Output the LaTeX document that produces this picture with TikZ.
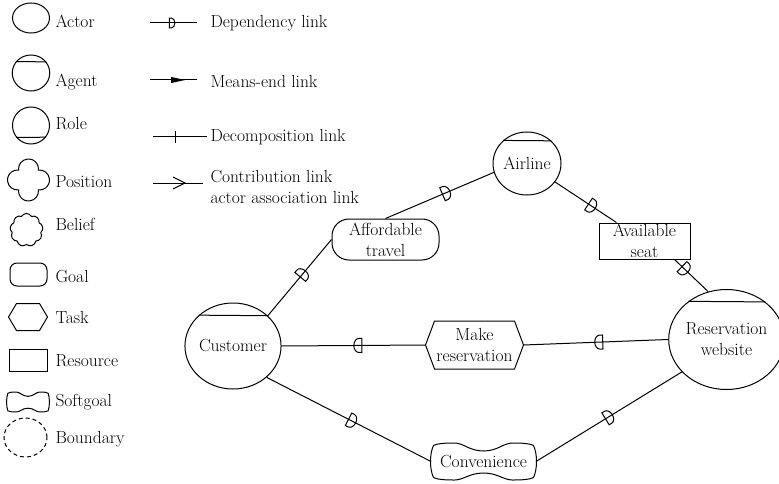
\documentclass[tikz,border=0pt]{standalone}
\usepackage{fontspec}
\usetikzlibrary{shapes.geometric,shapes.symbols,decorations.markings,calc}

% dependency "D": flat back, round front pointing along the path
\newcommand\depglyph{\draw (-4,-7) -- (-4,7) -- (-1,7) arc[start angle=90,end angle=-90,x radius=5,y radius=7] -- cycle;}

\tikzset{
  actornode/.style={draw, ellipse, align=center},
  goalnode/.style={draw, rectangle, rounded corners=#1, align=center},
  resnode/.style={draw, rectangle, align=center},
  plainbox/.style={rectangle, align=center},
  legendlabel/.style={anchor=base west},
  deplink/.style={postaction={decorate},
    decoration={markings, mark=at position #1 with {\depglyph}}},
  smalldeplink/.style={postaction={decorate},
    decoration={markings, mark=at position #1 with {\begin{scope}[scale=0.7]\depglyph\end{scope}}}},
  meanslink/.style={postaction={decorate},
    decoration={markings, mark=at position #1 with {\fill (-7,-3) -- (7,0) -- (-7,3) -- cycle;}}},
  decomplink/.style={postaction={decorate},
    decoration={markings, mark=at position #1 with {\draw (0,-6) -- (0,6);}}},
  contriblink/.style={postaction={decorate},
    decoration={markings, mark=at position #1 with {\draw (-12,-6) -- (0,0) -- (-12,6);}}},
  softgoalshape/.pic={
    \draw (-50,-16) .. controls (-45,-18.5) and (-35,-18.5) .. (-29,-18.5)
      .. controls (-20,-18.5) and (-14,-10.5) .. (0,-10.5)
      .. controls (14,-10.5) and (20,-18.5) .. (29,-18.5)
      .. controls (35,-18.5) and (45,-18.5) .. (50,-16)
      .. controls (54,-8) and (54,8) .. (50,16)
      .. controls (45,18.5) and (35,18.5) .. (29,18.5)
      .. controls (20,18.5) and (14,11.5) .. (0,11.5)
      .. controls (-14,11.5) and (-20,18.5) .. (-29,18.5)
      .. controls (-35,18.5) and (-45,18.5) .. (-50,16)
      .. controls (-54,8) and (-54,-8) .. (-50,-16) -- cycle;
  }
}

\begin{document}
\begin{tikzpicture}[x=1pt, y=-1pt, line width=1pt,
  every node/.style={font=\fontsize{17.5}{21}\selectfont, inner sep=0pt}]
\useasboundingbox (0,0) rectangle (779,484);

% ---------------- legend: element shapes ----------------
\node[actornode, minimum width=37, minimum height=30] (lgActor) at (31,18) {};
\node[legendlabel] (tActor) at (55,28) {Actor};

\node[actornode, minimum width=37.5, minimum height=36] (lgAgent) at (31,73) {};
\draw (lgAgent.143.4) -- (lgAgent.36.6);
\node[legendlabel] (tAgent) at (55,87) {Agent};

\node[actornode, minimum width=37, minimum height=37] (lgRole) at (31,125.5) {};
\draw (lgRole.-141.6) -- (lgRole.-38.4);
\node[legendlabel] (tRole) at (55,130) {Role};

\begin{scope}[shift={(28.5,180)}]
  \draw (9.94,9.94) arc[start angle=-6.1, end angle=186.1, radius=10]
        arc[start angle=83.9, end angle=276.1, radius=10]
        arc[start angle=173.9, end angle=366.1, radius=10]
        arc[start angle=263.9, end angle=456.1, radius=10] -- cycle;
\end{scope}
\node[legendlabel] (tPosition) at (55,187) {Position};

\node[draw, cloud, cloud puffs=9, cloud puff arc=120, aspect=1,
      minimum width=33, minimum height=33] (lgBelief) at (26.5,230) {};
\node[legendlabel] (tBelief) at (55,230) {Belief};

\node[goalnode=7pt, minimum width=37, minimum height=23] (lgGoal) at (28.5,274.5) {};
\node[legendlabel] (tGoal) at (55,282) {Goal};

\node[plainbox, minimum width=38, minimum height=26] (lgTask) at (28,317) {};
\draw (lgTask.west) -- ([xshift=8pt]lgTask.north west) -- ([xshift=-8pt]lgTask.north east)
  -- (lgTask.east) -- ([xshift=-8pt]lgTask.south east) -- ([xshift=8pt]lgTask.south west) -- cycle;
\node[legendlabel] (tTask) at (55,323) {Task};

\node[resnode, minimum width=38, minimum height=22] (lgResource) at (28,360) {};
\node[legendlabel] (tResource) at (55,366.5) {Resource};

\pic[xscale=0.404, yscale=0.54] at (28,402) {softgoalshape};
\node[legendlabel] (tSoftgoal) at (55,406) {Softgoal};

\node[draw, ellipse, dashed, dash pattern=on 4pt off 3pt,
      minimum width=43, minimum height=39] (lgBoundary) at (25.5,437.5) {};
\node[legendlabel] (tBoundary) at (55,443.5) {Boundary};

% ---------------- legend: link kinds ----------------
\coordinate (depA) at (150,23);   \coordinate (depB) at (197,23);
\draw[smalldeplink=0.47] (depA) -- (depB);
\node[legendlabel] (tDep) at (210,28) {Dependency link};

\coordinate (meA) at (150,80);    \coordinate (meB) at (197,80);
\draw[meanslink=0.6] (meA) -- (meB);
\node[legendlabel] (tMeans) at (210,88) {Means-end link};

\coordinate (dcA) at (153,137);   \coordinate (dcB) at (207,137);
\draw[decomplink=0.41] (dcA) -- (dcB);
\node[legendlabel] (tDecomp) at (210,142) {Decomposition link};

\coordinate (ctA) at (153,183);   \coordinate (ctB) at (203,183);
\draw[contriblink=0.64] (ctA) -- (ctB);
\node[anchor=north west, align=left] (tContrib) at (210,169.5)
  {Contribution link\\actor association link};

% ---------------- strategic dependency model ----------------
\node[actornode, minimum width=94, minimum height=86] (cust) at (233,346) {Customer};
\draw (cust.138.3) -- (cust.41.7);

\node[actornode, minimum width=68, minimum height=63] (air) at (527,163.5) {Airline};
\draw (air.136.6) -- (air.43.4);

\node[actornode, minimum width=103, minimum height=100] (web) at (726.5,339.5) {Reservation\\website};
\draw (web.135.9) -- (web.44.1);

\node[goalnode=17pt, minimum width=107, minimum height=41] (aff) at (385.5,239.5) {Affordable\\travel};

\node[resnode, minimum width=91, minimum height=36] (seat) at (644.5,241) {Available\\seat};

\node[plainbox, minimum width=97, minimum height=47] (mk) at (474.5,345) {Make\\reservation};
\draw (mk.west) -- ([xshift=9pt]mk.north west) -- ([xshift=-9pt]mk.north east)
  -- (mk.east) -- ([xshift=-9pt]mk.south east) -- ([xshift=9pt]mk.south west) -- cycle;

\node[plainbox, minimum width=104, minimum height=37] (conv) at (483.5,461.5) {Convenience};
\pic at (conv.center) {softgoalshape};

% dependencies
\draw[deplink=0.55] (cust.41.7) -- (aff.west);
\draw[deplink=0.56] (aff.north) -- (air.195);
\draw[deplink=0.6] (air) -- (seat);
\draw[deplink=0.31] ([xshift=30pt]seat.south) -- (web.111.7);
\draw[deplink=0.47] (mk.west) -- (cust.east);
\draw[deplink=0.48] (web.west) -- (mk.east);
\draw[deplink=0.52] (cust.-43) -- (conv.west);
\draw[deplink=0.5] (conv.east) -- (web.216.5);
\end{tikzpicture}
\end{document}
